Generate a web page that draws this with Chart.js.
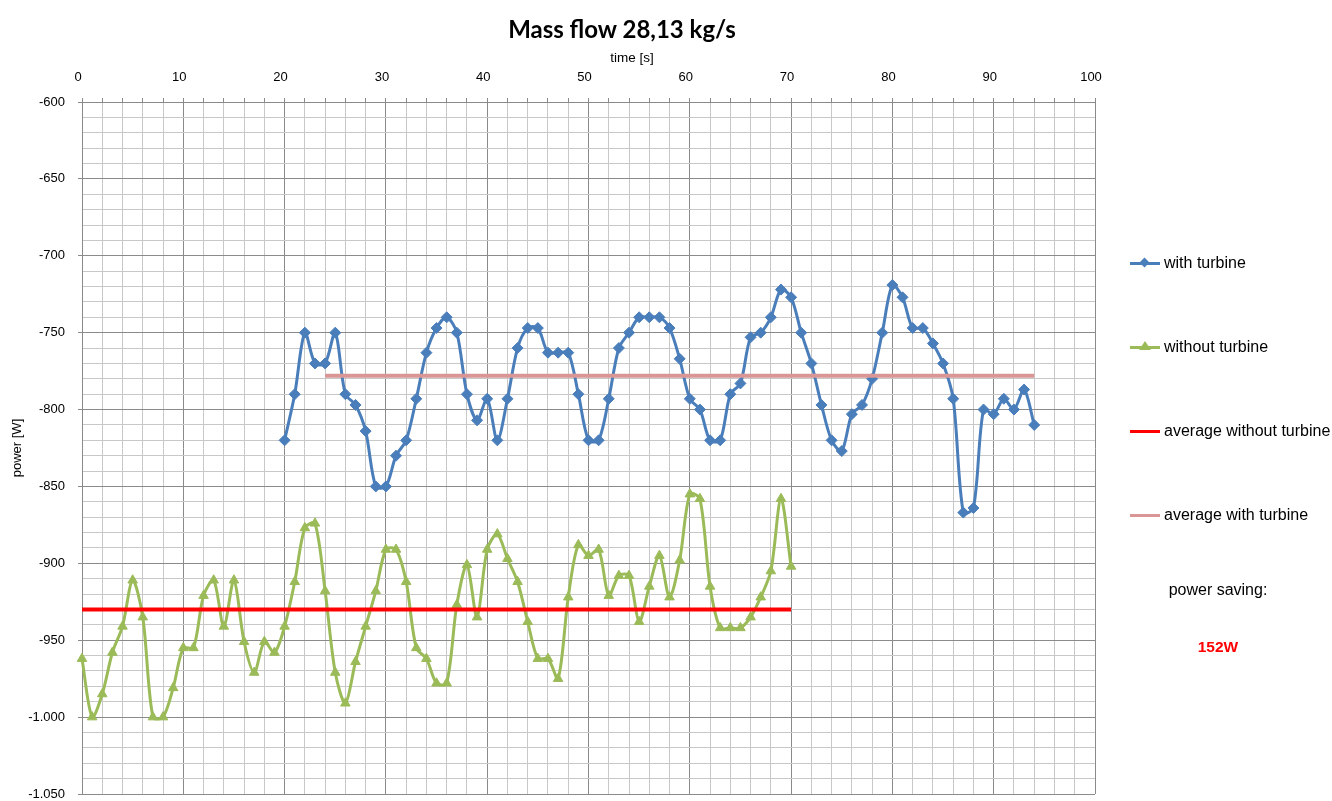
<!DOCTYPE html>
<html>
<head>
<meta charset="utf-8">
<title>Mass flow 28,13 kg/s</title>
<script src="https://cdn.jsdelivr.net/npm/chart.js"></script>
<style>
  body { margin: 0; background: #fff; font-family: "Liberation Sans", Arial, sans-serif; }
  #wrap { position: relative; width: 1332px; height: 801px; }
  #chart { position: absolute; left: 0; top: 0; }
  #title { position: absolute; left: 0; width: 1244px; top: 14px; text-align: center;
           font: bold 24px Lato, "Liberation Sans", sans-serif; color: #000; }
  #xtitle { position: absolute; left: 532px; width: 200px; top: 50px; text-align: center; font-size: 13.5px; }
  .item { position: absolute; left: 1130px; height: 20px; font-size: 16px; color: #000; white-space: nowrap; }
  .item .line { position: absolute; left: 0; top: 9px; width: 30px; height: 3px; }
  .item span.txt { position: absolute; left: 34px; top: 0; line-height: 20px; }
  .mark { position: absolute; }
  #saving { position: absolute; left: 1118px; width: 200px; top: 581px; text-align: center; font-size: 16px; }
  #value { position: absolute; left: 1118px; width: 200px; top: 638px; text-align: center;
           font-size: 15.5px; font-weight: bold; color: #ff0000; }
</style>
</head>
<body>
<div id="wrap">
  <canvas id="chart" width="1332" height="801"></canvas>
  <div id="title">Mass flow 28,13 kg/s</div>
  <div id="xtitle">time [s]</div>

  <div class="item" style="top:253px">
    <div class="line" style="background:#4a7ebb"></div>
    <div class="mark" style="left:11px;top:6px;width:7px;height:7px;background:#4a7ebb;transform:rotate(45deg)"></div>
    <span class="txt">with turbine</span>
  </div>
  <div class="item" style="top:337px">
    <div class="line" style="background:#9bbb59"></div>
    <div class="mark" style="left:9px;top:4px;width:0;height:0;border-left:6px solid transparent;border-right:6px solid transparent;border-bottom:9px solid #9bbb59"></div>
    <span class="txt">without turbine</span>
  </div>
  <div class="item" style="top:421px">
    <div class="line" style="background:#ff0000"></div>
    <span class="txt">average without turbine</span>
  </div>
  <div class="item" style="top:505px">
    <div class="line" style="background:#d99694"></div>
    <span class="txt">average with turbine</span>
  </div>
  <div id="saving">power saving:</div>
  <div id="value">152W</div>
</div>

<script>
// with turbine
const timeWith = [20, 21, 22, 23, 24, 25, 26, 27, 28, 29, 30, 31, 32, 33, 34, 35, 36, 37, 38, 39,
    40, 41, 42, 43, 44, 45, 46, 47, 48, 49, 50, 51, 52, 53, 54, 55, 56, 57, 58, 59,
    60, 61, 62, 63, 64, 65, 66, 67, 68, 69, 70, 71, 72, 73, 74, 75, 76, 77, 78, 79,
    80, 81, 82, 83, 84, 85, 86, 87, 88, 89, 90, 91, 92, 93, 94];
const powerWith = [-820, -790, -750, -770, -770, -750, -790, -797, -814, -850,
    -850, -830, -820, -793, -763, -747, -740, -750, -790, -807,
    -793, -820, -793, -760, -747, -747, -763, -763, -763, -790,
    -820, -820, -793, -760, -750, -740, -740, -740, -747, -767,
    -793, -800, -820, -820, -790, -783, -753, -750, -740, -722,
    -727, -750, -770, -797, -820, -827, -803, -797, -780, -750,
    -719, -727, -747, -747, -757, -770, -793, -867, -864, -800,
    -803, -793, -800, -787, -810];

// without turbine
const timeWithout = [0, 1, 2, 3, 4, 5, 6, 7, 8, 9, 10, 11, 12, 13, 14, 15, 16, 17, 18, 19,
    20, 21, 22, 23, 24, 25, 26, 27, 28, 29, 30, 31, 32, 33, 34, 35, 36, 37, 38, 39,
    40, 41, 42, 43, 44, 45, 46, 47, 48, 49, 50, 51, 52, 53, 54, 55, 56, 57, 58, 59,
    60, 61, 62, 63, 64, 65, 66, 67, 68, 69, 70];
const powerWithout = [-962, -1000, -985, -958, -941, -911, -935, -1000, -1000, -981,
    -955, -955, -921, -911, -941, -911, -951, -971, -951, -958,
    -941, -912, -877, -874, -918, -971, -991, -964, -941, -918,
    -891, -891, -912, -955, -962, -978, -978, -927, -901, -935,
    -891, -881, -897, -912, -938, -962, -962, -975, -922, -888,
    -895, -891, -921, -908, -908, -938, -915, -895, -922, -898,
    -855, -858, -915, -942, -942, -942, -935, -922, -905, -858, -902];

// averages (start / end of each line)
const avgWithoutTime = [0, 70];
const avgWithoutPower = [-930, -930];
const avgWithTime = [24, 94];
const avgWithPower = [-778, -778];

const xTicks = [0, 10, 20, 30, 40, 50, 60, 70, 80, 90, 100];
const yTicks = [-600, -650, -700, -750, -800, -850, -900, -950, -1000, -1050];

function pts(xs, ys) {
    return xs.map((x, i) => ({ x: x, y: ys[i] }));
}

// -1000 -> "-1.000"
function fmt(v) {
    const s = String(Math.abs(v));
    const body = s.length > 3 ? s.slice(0, s.length - 3) + '.' + s.slice(-3) : s;
    return (v < 0 ? '-' : '') + body;
}

const MAJOR = '#8a8a8a';
const MINOR = '#c8c8c8';
const tickFont = { family: '"Liberation Sans", Arial, sans-serif', size: 13 };

new Chart(document.getElementById('chart'), {
    type: 'line',
    data: {
        datasets: [
            {
                label: 'average without turbine',
                data: pts(avgWithoutTime, avgWithoutPower),
                borderColor: '#ff0000',
                borderWidth: 4,
                pointRadius: 0,
                tension: 0,
                order: 0
            },
            {
                label: 'average with turbine',
                data: pts(avgWithTime, avgWithPower),
                borderColor: '#d99694',
                borderWidth: 4,
                pointRadius: 0,
                tension: 0,
                order: 0
            },
            {
                label: 'with turbine',
                data: pts(timeWith, powerWith),
                borderColor: '#4a7ebb',
                backgroundColor: '#4a7ebb',
                borderWidth: 3,
                pointStyle: 'rectRot',
                pointRadius: 5.5,
                pointBorderWidth: 1,
                tension: 0.3,
                clip: false,
                order: 1
            },
            {
                label: 'without turbine',
                data: pts(timeWithout, powerWithout),
                borderColor: '#9bbb59',
                backgroundColor: '#9bbb59',
                borderWidth: 3,
                pointStyle: 'triangle',
                pointRadius: 5.5,
                pointBorderWidth: 1,
                tension: 0.3,
                clip: false,
                order: 1
            }
        ]
    },
    options: {
        responsive: false,
        animation: false,
        layout: { padding: { left: 5, top: 46, right: 237, bottom: 7 } },
        plugins: {
            legend: { display: false },
            tooltip: { enabled: false }
        },
        scales: {
            x: {
                type: 'linear',
                position: 'top',
                min: 0,
                max: 100,
                afterFit: s => { s.height = 56; },
                ticks: {
                    stepSize: 2,
                    autoSkip: false,
                    maxRotation: 0,
                    padding: 13,
                    labelOffset: -4,
                    color: '#000',
                    font: tickFont,
                    callback: v => xTicks.includes(v) ? String(v) : ''
                },
                grid: {
                    color: c => xTicks.includes(c.tick.value) ? MAJOR : MINOR,
                    tickColor: MAJOR,
                    tickLength: 4
                },
                border: { color: MAJOR }
            },
            y: {
                min: -1050,
                max: -600,
                afterFit: s => { s.width = 77; s.paddingTop = 0; s.paddingBottom = 0; },
                ticks: {
                    stepSize: 10,
                    autoSkip: false,
                    padding: 13,
                    color: '#000',
                    font: tickFont,
                    callback: v => yTicks.includes(v) ? fmt(v) : ''
                },
                grid: {
                    color: c => yTicks.includes(c.tick.value) ? MAJOR : MINOR,
                    tickColor: c => yTicks.includes(c.tick.value) ? MAJOR : 'rgba(0,0,0,0)',
                    tickLength: 4
                },
                border: { color: MAJOR },
                title: {
                    display: true,
                    text: 'power [W]',
                    color: '#000',
                    font: tickFont,
                    padding: { top: 5, bottom: 0 }
                }
            }
        }
    }
});
</script>
</body>
</html>
